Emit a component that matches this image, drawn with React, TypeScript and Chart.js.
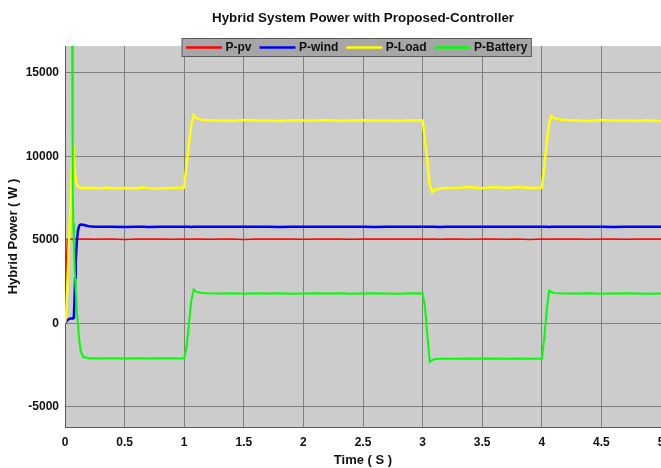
import React, { useEffect, useRef } from "react";
import { Chart, registerables } from "chart.js";

Chart.register(...registerables);

// Simulation time (s)
const timeS = [
  // start-up transient
  0, 0.01, 0.02, 0.03, 0.04, 0.05, 0.06, 0.065, 0.07, 0.075, 0.08, 0.085, 0.09, 0.1, 0.11, 0.12, 0.13, 0.15,
  // low load
  0.2, 0.25, 0.3, 0.35, 0.4, 0.5, 0.6, 0.65, 0.7, 0.8, 0.9, 1.0,
  // load step up
  1.02, 1.04, 1.06, 1.08, 1.1, 1.15, 1.2,
  // high load
  1.3, 1.4, 1.5, 1.6, 1.7, 1.8, 1.9, 2.0, 2.1, 2.2, 2.3, 2.4, 2.5, 2.6, 2.7, 2.8, 2.9, 3.0,
  // load step down
  3.02, 3.04, 3.06, 3.08, 3.1, 3.15, 3.2,
  // low load
  3.3, 3.4, 3.5, 3.6, 3.7, 3.8, 3.9, 4.0,
  // load step up
  4.02, 4.04, 4.06, 4.08, 4.1, 4.15, 4.2,
  // high load
  4.3, 4.4, 4.5, 4.6, 4.7, 4.8, 4.9, 5.0,
];

// PV power (W)
const pvPower = [
  0, 3000, 5050, 5060, 5050, 5050, 5050, 5050, 5050, 5050, 5050, 5050, 5050, 5050, 5050, 5050, 5050, 5050,
  5050, 5040, 5060, 5050, 5050, 5030, 5050, 5050, 5060, 5050, 5040, 5050,
  5050, 5040, 5050, 5060, 5050, 5050, 5040,
  5050, 5050, 5030, 5050, 5060, 5050, 5050, 5040, 5050, 5050, 5050, 5040, 5050, 5060, 5050, 5050, 5050, 5050,
  5050, 5040, 5050, 5050, 5060, 5040, 5050,
  5050, 5040, 5050, 5050, 5040, 5050, 5030, 5050,
  5050, 5050, 5040, 5050, 5050, 5060, 5050,
  5050, 5040, 5050, 5050, 5040, 5050, 5060, 5050,
];

// Wind power (W)
const windPower = [
  0, 100, 200, 250, 280, 300, 300, 320, 350, 500, 1500, 2700, 3700, 5000, 5600, 5850, 5920, 5900,
  5820, 5790, 5780, 5780, 5780, 5770, 5780, 5780, 5770, 5780, 5780, 5780,
  5780, 5780, 5770, 5780, 5780, 5780, 5780,
  5780, 5780, 5790, 5780, 5780, 5770, 5780, 5780, 5780, 5790, 5780, 5780, 5780, 5770, 5780, 5780, 5780, 5780,
  5780, 5790, 5780, 5780, 5780, 5770, 5780,
  5780, 5790, 5780, 5780, 5790, 5780, 5780, 5780,
  5780, 5780, 5770, 5780, 5780, 5780, 5780,
  5780, 5780, 5780, 5770, 5780, 5780, 5780, 5780,
];

// Load demand (W)
const loadPower = [
  0, 500, 2300, 4400, 6000, 7600, 9800, 10800, 10500, 9800, 9200, 8800, 8550, 8300, 8200, 8150, 8100, 8120,
  8100, 8110, 8080, 8130, 8090, 8100, 8080, 8150, 8090, 8070, 8100, 8130,
  9500, 10800, 11900, 12480, 12300, 12170, 12160,
  12150, 12130, 12170, 12140, 12150, 12120, 12160, 12150, 12140, 12170, 12130, 12150, 12160, 12140, 12150, 12130, 12160, 12150,
  11000, 9700, 8300, 7860, 8000, 8080, 8100,
  8120, 8170, 8090, 8160, 8110, 8170, 8100, 8130,
  9300, 10700, 11900, 12420, 12300, 12200, 12170,
  12150, 12120, 12170, 12140, 12150, 12130, 12160, 12100,
];

// Battery power (W)
const batteryPower = [
  30000, 30000, 30000, 30000, 30000, 30000, 17000, 8000, 6000, 4700, 3600, 2700, 2000, 700, -200, -1000, -1600, -2000,
  -2080, -2090, -2100, -2080, -2090, -2100, -2090, -2080, -2100, -2090, -2090, -2100,
  -1400, 0, 1400, 2030, 1900, 1820, 1800,
  1790, 1800, 1780, 1810, 1790, 1800, 1780, 1790, 1800, 1790, 1810, 1780, 1790, 1800, 1790, 1780, 1800, 1790,
  1000, -700, -2300, -2200, -2150, -2120, -2110,
  -2110, -2100, -2120, -2100, -2110, -2100, -2120, -2110,
  -900, 700, 1950, 1880, 1820, 1800, 1790,
  1790, 1800, 1780, 1790, 1800, 1790, 1780, 1790,
];

const timeTicks = [0, 0.5, 1, 1.5, 2, 2.5, 3, 3.5, 4, 4.5, 5];
const powerTicks = [-5000, 0, 5000, 10000, 15000];

const FONT = "'Liberation Sans', Arial, Helvetica, sans-serif";

const plotBackground = {
  id: "plotBackground",
  beforeDraw(chart: any) {
    const { ctx, chartArea } = chart;
    ctx.save();
    ctx.fillStyle = "#cccccc";
    ctx.fillRect(chartArea.left, chartArea.top, chartArea.right - chartArea.left, chartArea.bottom - chartArea.top);
    ctx.restore();
  },
};

const boxLegend = {
  id: "boxLegend",
  afterDraw(chart: any) {
    const ctx = chart.ctx;
    ctx.save();
    ctx.font = `bold 12px ${FONT}`;
    const items = chart.data.datasets.map((ds: any) => ({
      label: ds.label as string,
      color: ds.borderColor as string,
      w: ctx.measureText(ds.label).width,
    }));
    const lineLen = 36;
    const padL = 4;
    const padR = 4;
    const gapLT = 3.5;
    const gapItem = 8;
    let total = padL + padR;
    items.forEach((it: any, i: number) => {
      total += lineLen + gapLT + it.w + (i < items.length - 1 ? gapItem : 0);
    });
    const left = 182;
    const top = 38.5;
    const h = 18;
    ctx.fillStyle = "#a6a6a6";
    ctx.fillRect(left, top, total, h);
    ctx.strokeStyle = "#5a5a5a";
    ctx.lineWidth = 1;
    ctx.strokeRect(left, top, total, h);
    let x = left + padL;
    const cy = top + h / 2;
    ctx.textBaseline = "middle";
    ctx.textAlign = "left";
    items.forEach((it: any) => {
      ctx.strokeStyle = it.color;
      ctx.lineWidth = 2.5;
      ctx.beginPath();
      ctx.moveTo(x, cy);
      ctx.lineTo(x + lineLen, cy);
      ctx.stroke();
      x += lineLen + gapLT;
      ctx.fillStyle = "#111111";
      ctx.fillText(it.label, x, cy + 0.5);
      x += it.w + gapItem;
    });
    ctx.restore();
  },
};

export default function App() {
  const canvasRef = useRef<HTMLCanvasElement | null>(null);

  useEffect(() => {
    document.body.style.margin = "0";
    const canvas = canvasRef.current;
    if (!canvas) return;
    const series = (values: number[]) => timeS.map((t, i) => ({ x: t, y: values[i] }));
    const chart = new Chart(canvas, {
      type: "line",
      data: {
        datasets: [
          { label: "P-pv", data: series(pvPower), borderColor: "#ff0000", borderWidth: 1.5, order: 3 },
          { label: "P-wind", data: series(windPower), borderColor: "#0000ff", borderWidth: 2.5, order: 2 },
          { label: "P-Load", data: series(loadPower), borderColor: "#ffff00", borderWidth: 2.5, order: 1 },
          { label: "P-Battery", data: series(batteryPower), borderColor: "#00ff00", borderWidth: 2, order: 0 },
        ],
      },
      options: {
        responsive: false,
        animation: false,
        devicePixelRatio: 1,
        layout: { padding: 0 },
        elements: { point: { radius: 0 }, line: { tension: 0 } },
        plugins: {
          legend: { display: false },
          tooltip: { enabled: false },
          title: {
            display: true,
            fullSize: false,
            text: "Hybrid System Power with Proposed-Controller",
            color: "#111111",
            font: { family: FONT, size: 13.4, weight: "bold" },
            padding: { top: 10, bottom: 20 },
          },
        },
        scales: {
          x: {
            type: "linear",
            min: 0,
            max: 5,
            afterBuildTicks: (scale: any) => {
              scale.ticks = timeTicks.map((v) => ({ value: v }));
            },
            afterFit: (scale: any) => {
              scale.paddingLeft = 0;
              scale.paddingRight = 0;
              scale.height = 41;
            },
            ticks: {
              color: "#111111",
              font: { family: FONT, size: 12, weight: "bold" },
              padding: 8,
              maxRotation: 0,
              autoSkip: false,
              callback: (v: any) => String(v),
            },
            grid: { color: "#808080", lineWidth: 1, drawTicks: false },
            border: { color: "#5a5a5a", width: 1 },
            title: {
              display: true,
              text: "Time ( S )",
              color: "#111111",
              font: { family: FONT, size: 13, weight: "bold" },
              padding: { top: 3, bottom: 0 },
            },
          },
          y: {
            type: "linear",
            min: -6200,
            max: 16600,
            afterBuildTicks: (scale: any) => {
              scale.ticks = powerTicks.map((v) => ({ value: v }));
            },
            afterFit: (scale: any) => {
              scale.width = 65;
            },
            ticks: {
              color: "#111111",
              font: { family: FONT, size: 12, weight: "bold" },
              padding: 6,
              autoSkip: false,
              callback: (v: any) => String(v),
            },
            grid: { color: "#808080", lineWidth: 1, drawTicks: false },
            border: { color: "#5a5a5a", width: 1 },
            title: {
              display: true,
              text: "Hybrid Power ( W )",
              color: "#111111",
              font: { family: FONT, size: 13, weight: "bold" },
              padding: { top: 6, bottom: 0 },
            },
          },
        },
      },
      plugins: [plotBackground, boxLegend],
    });
    return () => chart.destroy();
  }, []);

  return (
    <div style={{ width: 661, height: 468, background: "#ffffff" }}>
      <canvas ref={canvasRef} width={661} height={468} />
    </div>
  );
}
